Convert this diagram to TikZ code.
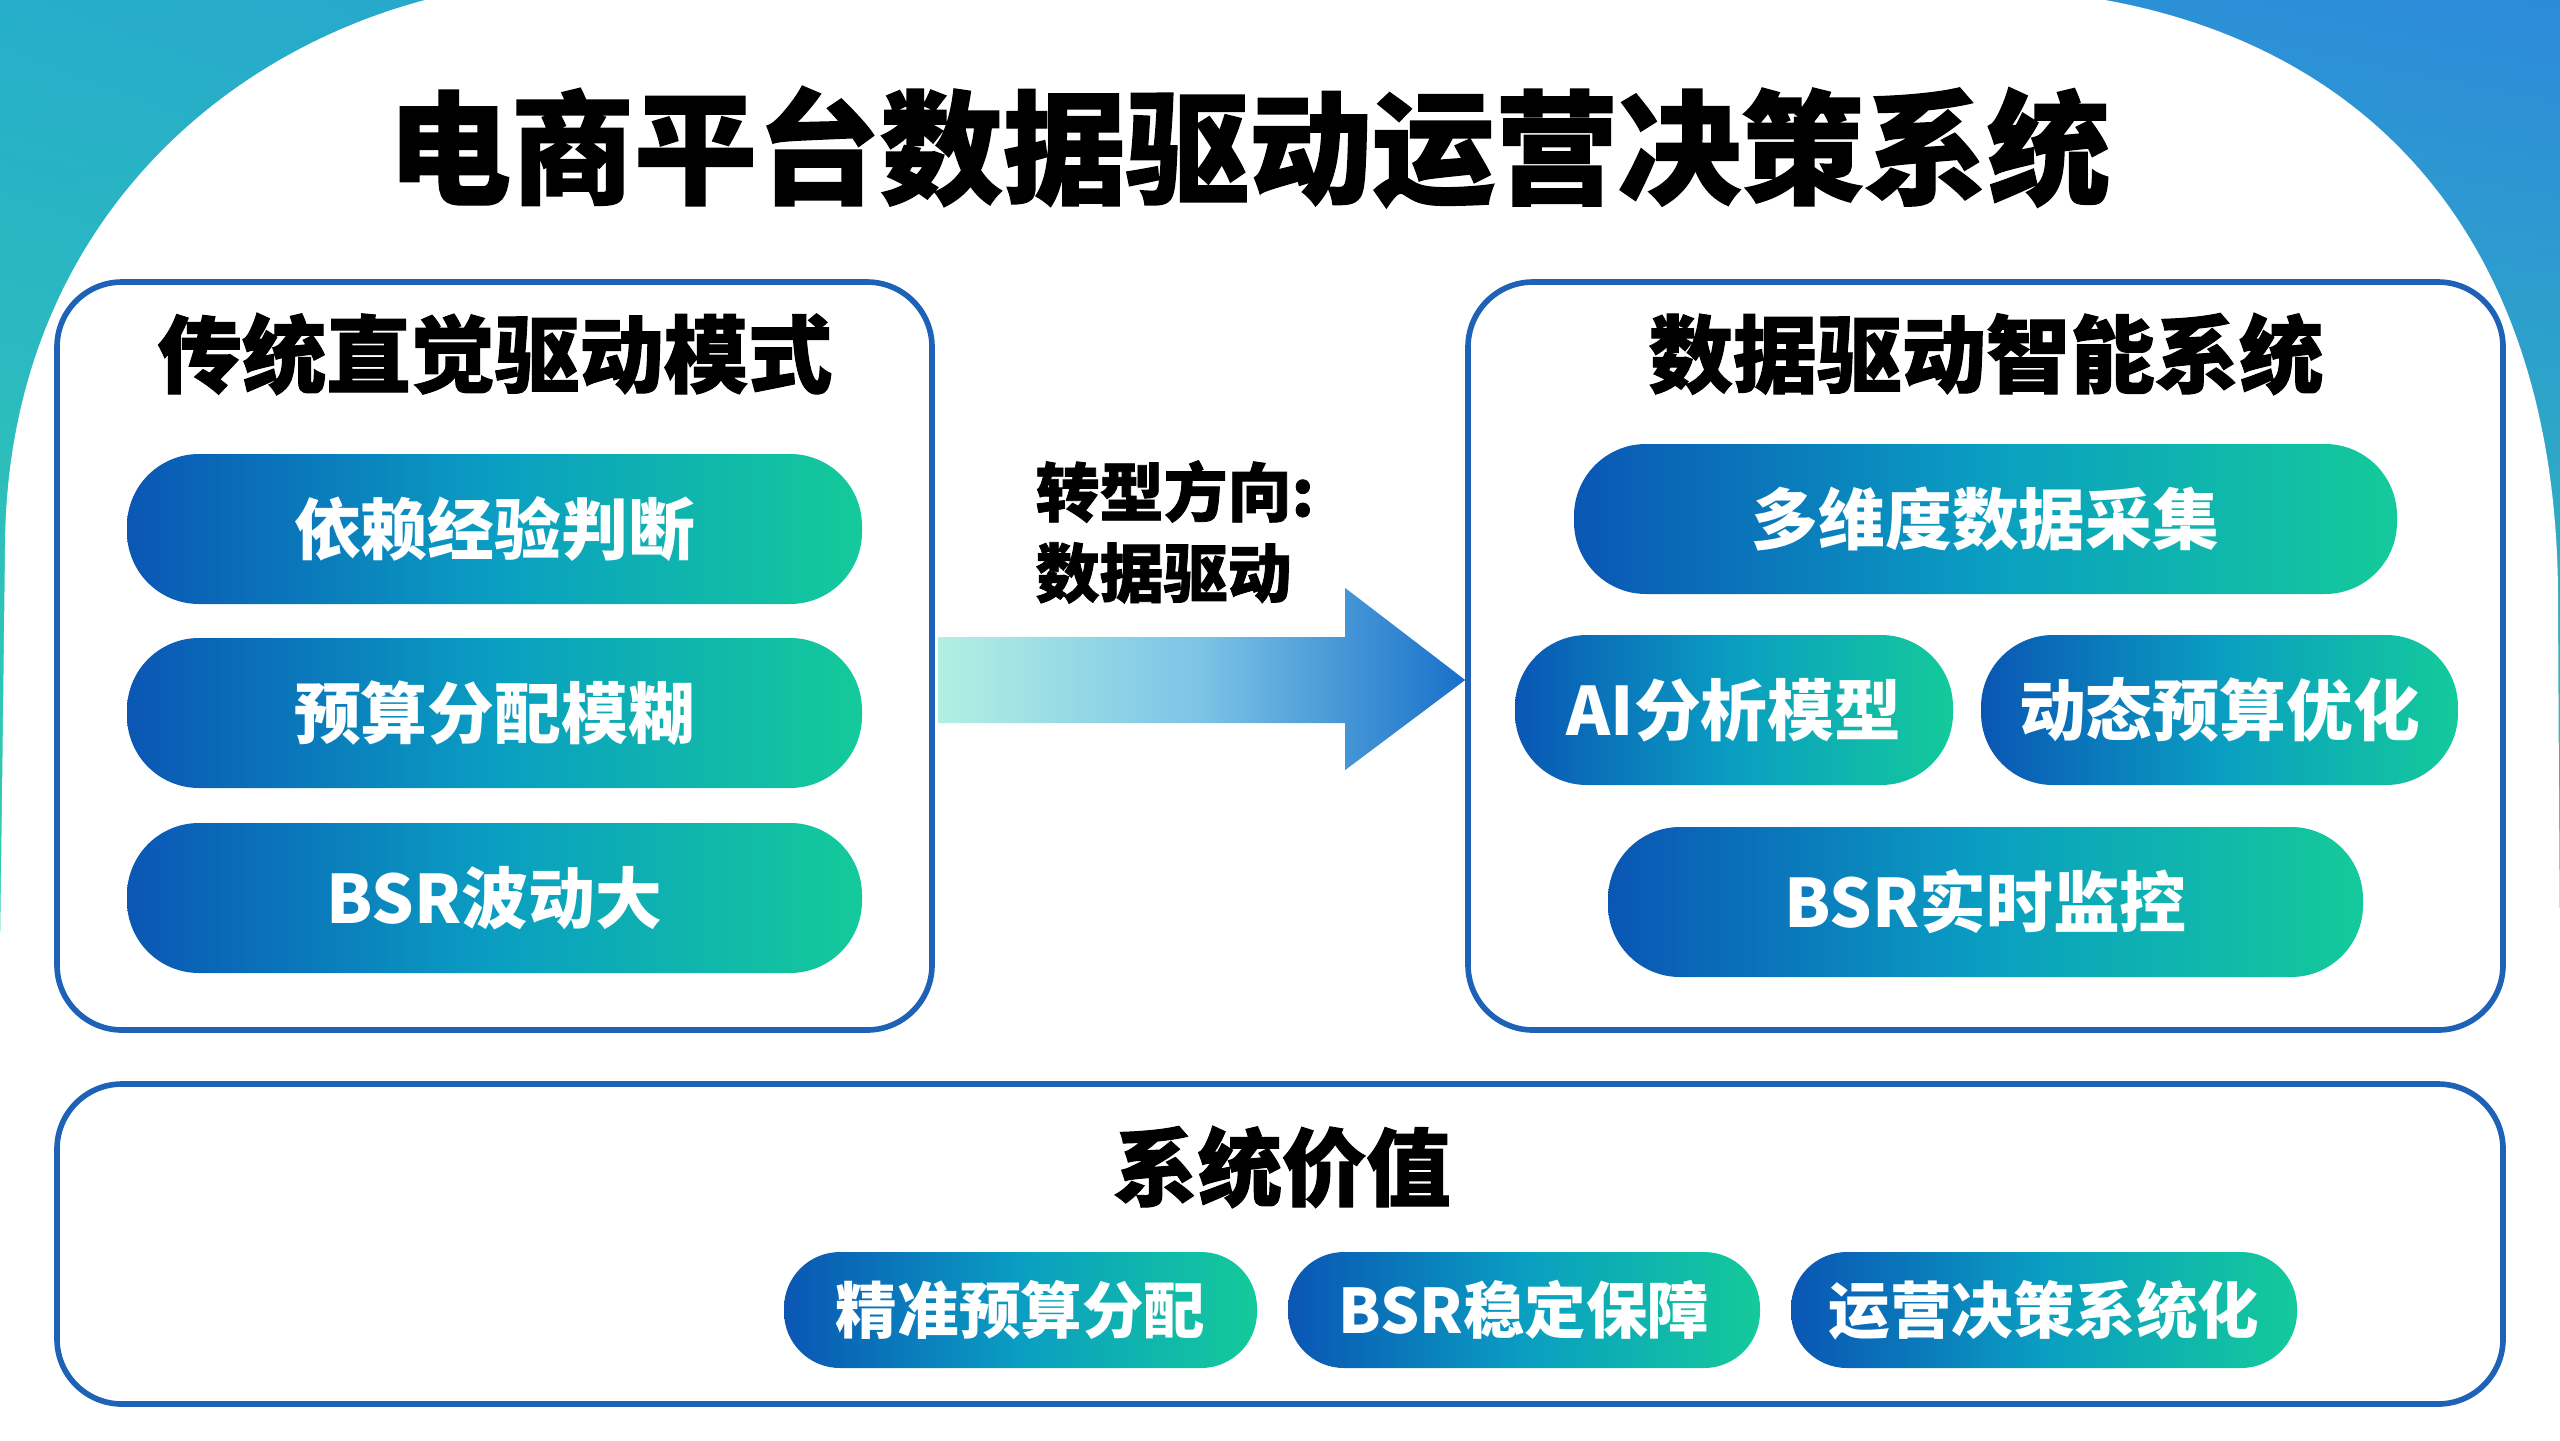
\documentclass[tikz,border=0pt]{standalone}
\usepackage{fontspec}
\setmainfont{Noto Sans CJK SC}
\newfontfamily\heavy{Noto Sans CJK SC}[BoldFeatures={FakeBold=1.2}]
\usetikzlibrary{calc,shadings}
\definecolor{pnl}{HTML}{1D62B6}
\definecolor{pl}{HTML}{0A56B4}
\definecolor{pm}{HTML}{0A9EC2}
\definecolor{pr}{HTML}{14CA9A}
\definecolor{bgul}{HTML}{26AECA}
\definecolor{bgur}{HTML}{2D8ADA}
\definecolor{bgll}{HTML}{33D0AC}
\definecolor{bglr}{HTML}{2CCAB0}
\definecolor{arL}{HTML}{B2F0E4}
\definecolor{arM}{HTML}{7CC3E6}
\definecolor{arR}{HTML}{1870CA}
\begin{document}
\begin{tikzpicture}[x=1cm,y=1cm,
  panel/.style={draw=pnl, line width=1.6pt, fill=white, rounded corners=0.65cm, inner sep=0pt},
  pill/.style={rounded corners=0.72cm, left color=pl, right color=pr, middle color=pm,
    minimum height=1.5cm, text=white, inner sep=0pt,
    font=\bfseries\fontsize{19pt}{22pt}\selectfont},
  spill/.style={pill, rounded corners=0.56cm, minimum height=1.16cm,
    font=\bfseries\fontsize{17.5pt}{21pt}\selectfont},
  ptitle/.style={font=\heavy\bfseries\fontsize{24pt}{28pt}\selectfont, text=black, inner sep=0pt},
]
\useasboundingbox (0,0) rectangle (25.6,-14.4);
% background
\shade[upper left=bgul, upper right=bgur, lower left=bgll, lower right=bglr] (0,0) rectangle (25.6,-10);
\fill[white] (0,-10) rectangle (25.6,-14.4);
\fill[white] (0,-14.4) -- (0,-9.5) .. controls (0.02,-8) .. (0.05,-5.5) .. controls (0.05,-2.5) and (2.0,-0.6) .. (4.25,0)
  -- (21.05,0) .. controls (23.8,-0.5) and (25.58,-2.5) .. (25.58,-6) .. controls (25.59,-8) .. (25.6,-9.5) -- (25.6,-14.4) -- cycle;

% title
\node[font=\heavy\bfseries\fontsize{35pt}{42pt}\selectfont, inner sep=0pt] (title) at (12.49,-1.47) {电商平台数据驱动运营决策系统};

% panels
\node[panel, minimum width=8.75cm, minimum height=7.48cm] (lp) at (4.945,-6.56) {};
\node[panel, minimum width=10.35cm, minimum height=7.48cm] (rp) at (19.855,-6.56) {};
\node[panel, minimum width=24.46cm, minimum height=3.2cm] (bp) at (12.8,-12.44) {};

% panel titles
\node[ptitle] (lt) at (4.95,-3.54) {传统直觉驱动模式};
\node[ptitle] (rt) at (19.86,-3.54) {数据驱动智能系统};
\node[ptitle] (bt) at (12.82,-11.67) {系统价值};

% left pills
\node[pill, minimum width=7.35cm] (l1) at (4.945,-5.29) {依赖经验判断};
\node[pill, minimum width=7.35cm] (l2) at (4.945,-7.13) {预算分配模糊};
\node[pill, minimum width=7.35cm] (l3) at (4.945,-8.98) {BSR波动大};

% right pills
\node[pill, minimum width=8.23cm] (r1) at (19.855,-5.19) {多维度数据采集};
\node[pill, minimum width=4.38cm] (r2) at (17.34,-7.10) {AI分析模型};
\node[pill, minimum width=4.77cm] (r3) at (22.195,-7.10) {动态预算优化};
\node[pill, minimum width=7.55cm] (r4) at (19.855,-9.02) {BSR实时监控};

% bottom pills
\node[spill, minimum width=4.73cm] (b1) at (10.205,-13.10) {精准预算分配};
\node[spill, minimum width=4.72cm] (b2) at (15.24,-13.10) {BSR稳定保障};
\node[spill, minimum width=5.06cm] (b3) at (20.44,-13.10) {运营决策系统化};

% middle label
\node[anchor=west, align=left, inner sep=0pt,
  font=\heavy\bfseries\fontsize{18.2pt}{23pt}\selectfont] (lbl) at (10.35,-5.32) {转型方向:\\数据驱动};

% arrow from left panel to right panel
\coordinate (a0) at ($(lp.east)+(0.03,-0.24)$);
\coordinate (a1) at ($(rp.west)+(0,-0.24)$);
\shade[left color=arL, right color=arR, middle color=arM]
  ($(a0)+(0,0.43)$) -- ($(a1)+(-1.2,0.43)$) -- ($(a1)+(-1.2,0.92)$) -- (a1)
  -- ($(a1)+(-1.2,-0.9)$) -- ($(a1)+(-1.2,-0.43)$) -- ($(a0)+(0,-0.43)$) -- cycle;
\end{tikzpicture}
\end{document}
